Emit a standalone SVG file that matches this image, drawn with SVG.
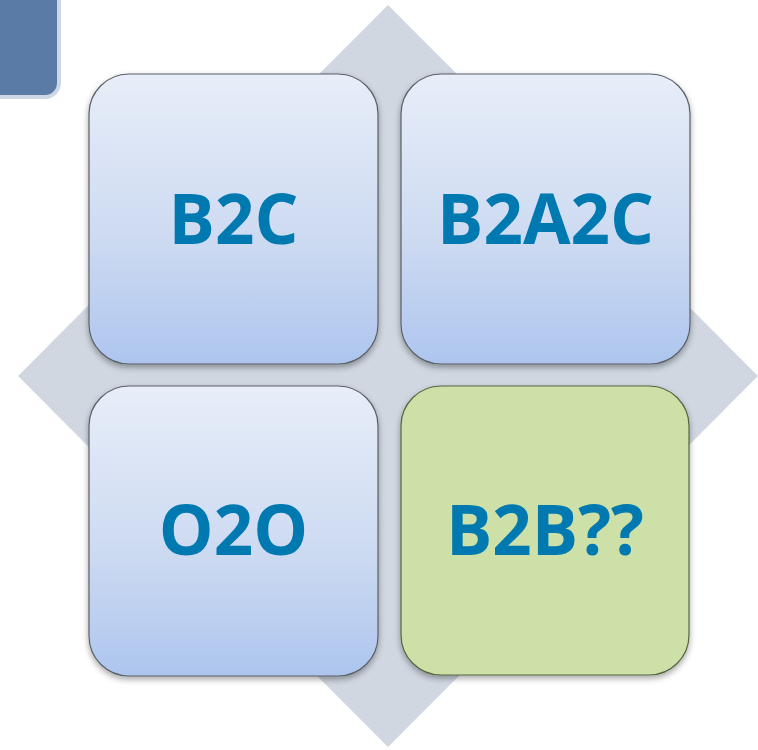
<svg xmlns="http://www.w3.org/2000/svg" width="758" height="750" viewBox="0 0 758 750">
<defs>
<linearGradient id="blue" x1="0" y1="0" x2="0" y2="1">
<stop offset="0" stop-color="#e8eef9"/>
<stop offset="0.6" stop-color="#cbd9f1"/>
<stop offset="1" stop-color="#adc5ee"/>
</linearGradient>
<filter id="sh" x="-10%" y="-10%" width="120%" height="125%">
<feGaussianBlur in="SourceAlpha" stdDeviation="3"/>
<feOffset dx="0" dy="3" result="b"/>
<feComponentTransfer><feFuncA type="linear" slope="0.35"/></feComponentTransfer>
<feMerge><feMergeNode/><feMergeNode in="SourceGraphic"/></feMerge>
</filter>
</defs>
<style>
.box{stroke:#5a5f66;stroke-width:1.2;filter:url(#sh)}
.b{fill:url(#blue)}
.g{fill:#cce0a8;stroke:#56653f}
.t{font-family:"Open Sans","Noto Sans","DejaVu Sans",sans-serif;font-weight:bold;font-size:69px;fill:#0079b0;text-anchor:middle}
</style>
<rect width="758" height="750" fill="#ffffff"/>
<rect x="-20" y="-20" width="79" height="117" rx="14" fill="#5a7ba6" stroke="#cdd7e6" stroke-width="4"/>
<polygon id="diamond" points="388,5 758,376 388,747 18,376" fill="#d0d7e1"/>
<g id="b2c"><rect class="box b" x="89" y="74" width="289" height="290" rx="40"/><text class="t" x="233.5" y="244">B2C</text></g>
<g id="b2a2c"><rect class="box b" x="401" y="74" width="289" height="290" rx="40"/><text class="t" x="545.5" y="244">B2A2C</text></g>
<g id="o2o"><rect class="box b" x="89" y="386" width="289" height="290" rx="40"/><text class="t" x="233.5" y="555">O2O</text></g>
<g id="b2b"><rect class="box g" x="401" y="386" width="288" height="289" rx="40"/><text class="t" x="545" y="555">B2B??</text></g>
<g id="connectors"/>
</svg>
